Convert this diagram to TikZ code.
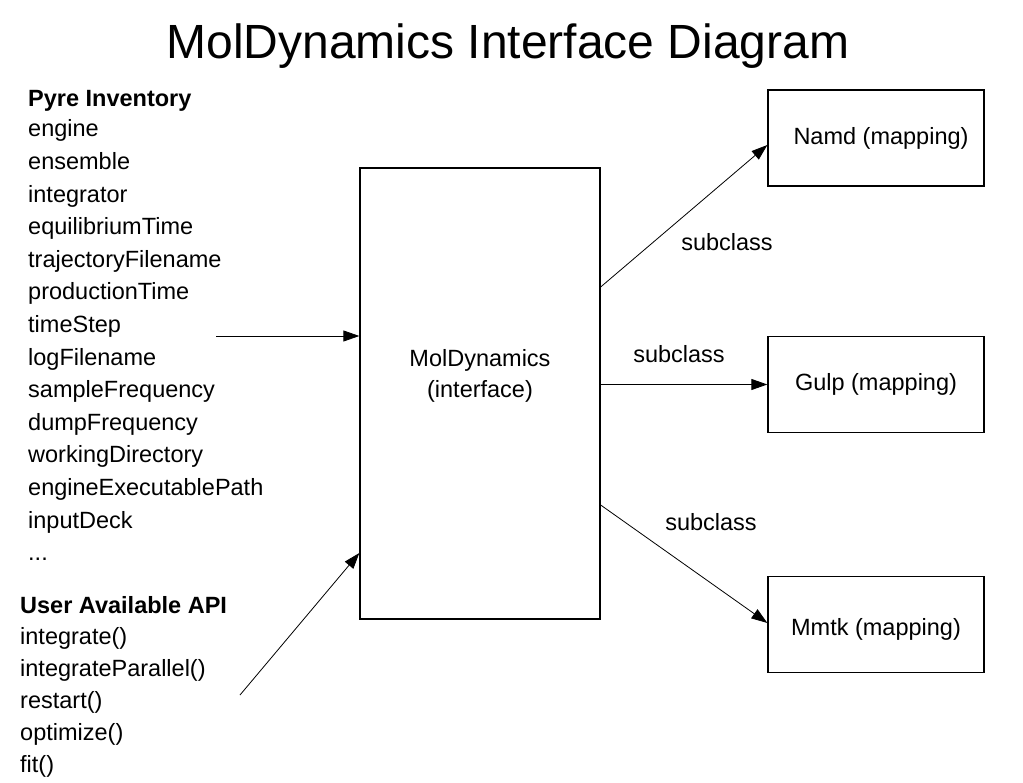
\documentclass[tikz,border=0pt]{standalone}
\usepackage{fontspec}
\setmainfont{Liberation Sans}
\usetikzlibrary{arrows.meta,positioning}

\tikzset{
  box/.style={draw,line width=1.3pt,inner sep=0pt},
  link/.style={line width=0.8pt,-{Triangle[length=16pt,width=11pt]}},
  txt/.style={font=\fontsize{23.5}{32.6}\selectfont},
}

\begin{document}
\begin{tikzpicture}[x=1pt,y=-1pt,every node/.style={txt}]

\useasboundingbox [fill=white] (0,0) rectangle (1023,783);

% title
\node [anchor=base,inner sep=0,font=\fontsize{48}{58}\selectfont] (title) at (508,59) {MolDynamics Interface Diagram};

% left lists
\node [anchor=base west,inner sep=0] (pyre) at (28,107) {\begin{tabular}[t]{@{}l@{}}
\textbf{Pyre Inventory}\\[-2.6pt]
engine\\ ensemble\\ integrator\\ equilibriumTime\\ trajectoryFilename\\
productionTime\\ timeStep\\ logFilename\\ sampleFrequency\\ dumpFrequency\\
workingDirectory\\ engineExecutablePath\\ inputDeck\\ ...
\end{tabular}};
\node [anchor=base west,inner sep=0] (api) at (20,613) {\begin{tabular}[t]{@{}l@{}}
\textbf{User Available API}\\[-1.5pt]
integrate()\\[-0.5pt] integrateParallel()\\[-0.5pt] restart()\\[-0.5pt] optimize()\\[-0.5pt] fit()
\end{tabular}};

% boxes
\node [box,minimum width=240pt,minimum height=451pt,
  label={[yshift=18pt,align=center]center:MolDynamics\\[-1.5pt](interface)}] (main) at (480,393.5) {};
\node [box,minimum width=216pt,minimum height=96pt] (namd) at (876,138) {\hspace{10pt}Namd (mapping)};
\node [box,minimum width=216pt,minimum height=96pt] (gulp) at (876,384.5) {Gulp (mapping)\hspace{10pt}};
\node [box,minimum width=216pt,minimum height=96pt,text height=22pt,text depth=0pt] (mmtk) at (876,624.5) {Mmtk (mapping)};

% free ends
\coordinate (pyreout) at (216,336);
\coordinate (apiout) at (240,695);

% connectors
\draw [link] (pyreout) -- (main.west |- pyreout);
\draw [link] (apiout) -- ([yshift=-159.5pt]main.west);
\draw [link] ([yshift=106.5pt]main.east) -- ([yshift=-7pt]namd.west);
\draw [link] (main.east |- gulp.west) -- (gulp.west);
\draw [link] ([yshift=-111.5pt]main.east) -- ([yshift=1.5pt]mmtk.west);

\node [anchor=base] (sub1) at (727,251) {subclass};
\node [anchor=base] (sub2) at (679,363) {subclass};
\node [anchor=base] (sub3) at (711,530) {subclass};

\end{tikzpicture}
\end{document}
